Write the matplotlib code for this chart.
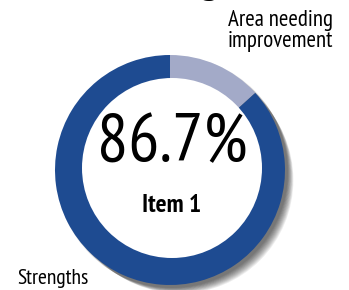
import matplotlib
matplotlib.use("Agg")
import matplotlib.pyplot as plt
from matplotlib.patches import Circle

# data
labels = ["Area needing\nimprovement", "Strengths"]
values = [13.3, 86.7]
colors = ["#a3aac8", "#1e4b91"]
center_label = "86.7%"
item_label = "Item 1"

plt.rcParams['font.family'] = ['PT Sans Narrow', 'DejaVu Sans']

fig = plt.figure(figsize=(3.49, 2.90), dpi=100)
ax = fig.add_axes([0, 0, 1, 1])

cx, cy, r = 170, 120, 115

# soft shadow behind the ring (falls to the lower right)
for k in range(10):
    ax.add_patch(Circle((cx + 2 + k * 0.9, cy - 2 - k * 0.9), r + 1 - k * 0.3,
                        color='black', alpha=0.07, lw=0, zorder=0))

ax.pie(values, colors=colors, startangle=90, counterclock=False,
       center=(cx, cy), radius=r, frame=True,
       wedgeprops=dict(edgecolor='none'))
# the hole sits a little off centre, as in the original
ax.add_patch(Circle((cx + 2, cy + 2), 90, color='white', lw=0, zorder=3))

ax.set_xlim(0, 349)
ax.set_ylim(0, 290)
ax.set_aspect('equal')
ax.axis('off')

ax.text(cx + 2, 146, center_label, ha='center', va='center', fontsize=50,
        color='black', zorder=4)
ax.text(cx + 2, 84, item_label, ha='center', va='center', fontsize=18.5,
        fontweight='bold', color='black', zorder=4)

ax.text(228, 280, labels[0], ha='left', va='top',
        fontsize=16.5, linespacing=1.0, color='black')
ax.text(17, 11, labels[1], ha='left', va='center', fontsize=15.5,
        color='black')

# clipped title fragment at the very top
ax.text(210, 298, "g", ha='center', va='baseline', fontsize=32,
        fontweight='bold', color='black', clip_on=True)

fig.savefig("out.png", dpi=100)
